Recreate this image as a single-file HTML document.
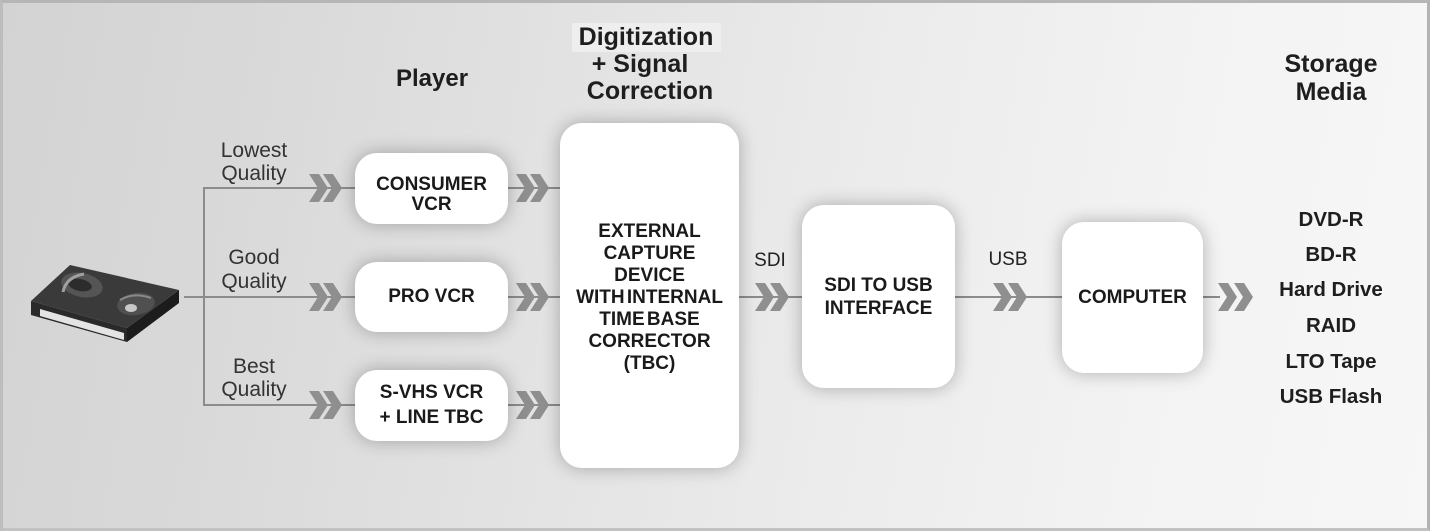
<!DOCTYPE html>
<html><head><meta charset="utf-8"><style>
*{margin:0;padding:0;box-sizing:border-box}
html,body{width:1430px;height:531px;overflow:hidden}
body{position:relative;font-family:"Liberation Sans",sans-serif;color:#222;
background:linear-gradient(100deg,#d3d3d3 0%,#d9d9d9 18%,#e3e3e3 40%,#ececec 60%,#f3f3f3 80%,#f7f7f7 100%);}
.frame{position:absolute;left:0;top:0;width:1430px;height:531px;border-top:3px solid #b6b6b6;border-left:3px solid #bdbdbd;border-right:3px solid #b3b3b3;border-bottom:3px solid #c2c2c2;}
svg{position:absolute;left:0;top:0}
.box{position:absolute;background:#fff;border-radius:22px;box-shadow:0 0 18px rgba(0,0,0,0.28);}
.t{position:absolute;text-align:center;white-space:nowrap}
.b{font-weight:bold}
.h{font-size:25px;font-weight:bold;line-height:27px;color:#1e1e1e}
.lab{font-size:21px;line-height:23px;color:#333}
.bt{font-size:19px;font-weight:bold;color:#1a1a1a}
.st{font-size:20.5px;font-weight:bold;line-height:24px;color:#1e1e1e}
</style></head><body>
<div class="frame"></div>
<div style="position:absolute;left:572px;top:23px;width:149px;height:29px;background:#eeeeee"></div>

<svg width="1430" height="531" viewBox="0 0 1430 531">
 <g stroke="#8c8c8c" stroke-width="2" fill="none">
  <line x1="184" y1="297" x2="355" y2="297"/>
  <line x1="204" y1="188" x2="204" y2="405"/>
  <line x1="203" y1="188" x2="355" y2="188"/>
  <line x1="203" y1="405" x2="355" y2="405"/>
  <line x1="508" y1="188" x2="560" y2="188"/>
  <line x1="508" y1="297" x2="560" y2="297"/>
  <line x1="508" y1="405" x2="560" y2="405"/>
  <line x1="739" y1="297" x2="802" y2="297"/>
  <line x1="955" y1="297" x2="1062" y2="297"/>
  <line x1="1203" y1="297" x2="1220" y2="297"/>
 </g>
 <g fill="#8f8f8f">
  <polygon points="309,174 319,174 328,188 319,202 309,202 318,188"/><polygon points="323,174 333,174 342,188 333,202 323,202 332,188"/>
  <polygon points="309,283 319,283 328,297 319,311 309,311 318,297"/><polygon points="323,283 333,283 342,297 333,311 323,311 332,297"/>
  <polygon points="309,391 319,391 328,405 319,419 309,419 318,405"/><polygon points="323,391 333,391 342,405 333,419 323,419 332,405"/>
  <polygon points="516,174 526,174 535,188 526,202 516,202 525,188"/><polygon points="530,174 540,174 549,188 540,202 530,202 539,188"/>
  <polygon points="516,283 526,283 535,297 526,311 516,311 525,297"/><polygon points="530,283 540,283 549,297 540,311 530,311 539,297"/>
  <polygon points="516,391 526,391 535,405 526,419 516,419 525,405"/><polygon points="530,391 540,391 549,405 540,419 530,419 539,405"/>
  <polygon points="755,283 765,283 774,297 765,311 755,311 764,297"/><polygon points="770,283 780,283 789,297 780,311 770,311 779,297"/>
  <polygon points="993,283 1003,283 1012,297 1003,311 993,311 1002,297"/><polygon points="1008,283 1018,283 1027,297 1018,311 1008,311 1017,297"/>
  <polygon points="1218,283 1228,283 1237,297 1228,311 1218,311 1227,297"/><polygon points="1234,283 1244,283 1253,297 1244,311 1234,311 1243,297"/>
 </g>
 <!-- cassette -->
 <g>
  <polygon points="31,301 127,328 127,342 31,315" fill="#2a2a2a"/>
  <polygon points="127,328 179,290 179,303 127,342" fill="#1c1c1c"/>
  <polygon points="31,301 70,265 179,290 127,328" fill="#3a3a3a"/>
  <polygon points="40,309 124,333 124,340 40,316" fill="#e4e4e4"/>
  <ellipse cx="82" cy="285" rx="21" ry="12" fill="#555" transform="rotate(12 82 285)"/>
  <ellipse cx="80" cy="285" rx="12" ry="6" fill="#2c2c2c" transform="rotate(12 80 285)"/>
  <path d="M63,292 Q66,277 84,274" stroke="#a0a0a0" stroke-width="3" fill="none"/>
  <ellipse cx="136" cy="304" rx="19" ry="11" fill="#505050" transform="rotate(-8 136 304)"/>
  <ellipse cx="131" cy="308" rx="6" ry="4" fill="#c8c8c8"/>
  <path d="M120,300 Q133,292 151,298" stroke="#8a8a8a" stroke-width="2" fill="none"/>
 </g>
</svg>

<div class="box" style="left:355px;top:153px;width:153px;height:71px"></div>
<div class="box" style="left:355px;top:262px;width:153px;height:70px"></div>
<div class="box" style="left:355px;top:370px;width:153px;height:71px"></div>
<div class="box" style="left:560px;top:123px;width:179px;height:345px"></div>
<div class="box" style="left:802px;top:205px;width:153px;height:183px"></div>
<div class="box" style="left:1062px;top:222px;width:141px;height:151px"></div>

<div class="t b" style="left:332px;top:65px;width:200px;font-size:24px;line-height:28px;color:#1e1e1e">Player</div>
<div class="t h" style="left:546px;top:24px;width:200px">Digitization</div>
<div class="t h" style="left:540px;top:51px;width:200px">+ Signal</div>
<div class="t h" style="left:550px;top:78px;width:200px">Correction</div>
<div class="t h" style="left:1231px;top:51px;width:200px">Storage</div>
<div class="t h" style="left:1231px;top:79px;width:200px">Media</div>

<div class="t lab" style="left:184px;top:139px;width:140px">Lowest</div>
<div class="t lab" style="left:184px;top:162px;width:140px">Quality</div>
<div class="t lab" style="left:184px;top:246px;width:140px">Good</div>
<div class="t lab" style="left:184px;top:270px;width:140px">Quality</div>
<div class="t lab" style="left:184px;top:355px;width:140px">Best</div>
<div class="t lab" style="left:184px;top:378px;width:140px">Quality</div>

<div class="t bt" style="left:355px;top:175px;width:153px;line-height:20px">CONSUMER<br>VCR</div>
<div class="t bt" style="left:355px;top:286px;width:153px;line-height:22px">PRO VCR</div>
<div class="t bt" style="left:355px;top:380px;width:153px;line-height:25px">S-VHS VCR<br>+ LINE TBC</div>
<div class="t bt" style="left:560px;top:221px;width:179px;line-height:22px;word-spacing:-3px">EXTERNAL<br>CAPTURE<br>DEVICE<br>WITH INTERNAL<br>TIME BASE<br>CORRECTOR<br>(TBC)</div>
<div class="t bt" style="left:802px;top:274px;width:153px;line-height:23px">SDI TO USB<br>INTERFACE</div>
<div class="t bt" style="left:1062px;top:286px;width:141px;line-height:23px">COMPUTER</div>

<div class="t" style="left:730px;top:250px;width:80px;font-size:19px;line-height:22px;color:#222">SDI</div>
<div class="t" style="left:968px;top:249px;width:80px;font-size:19px;line-height:22px;color:#222">USB</div>

<div class="t st" style="left:1231px;top:208px;width:200px">DVD-R</div>
<div class="t st" style="left:1231px;top:243px;width:200px">BD-R</div>
<div class="t st" style="left:1231px;top:278px;width:200px">Hard Drive</div>
<div class="t st" style="left:1231px;top:314px;width:200px">RAID</div>
<div class="t st" style="left:1231px;top:350px;width:200px">LTO Tape</div>
<div class="t st" style="left:1231px;top:385px;width:200px">USB Flash</div>
</body></html>
